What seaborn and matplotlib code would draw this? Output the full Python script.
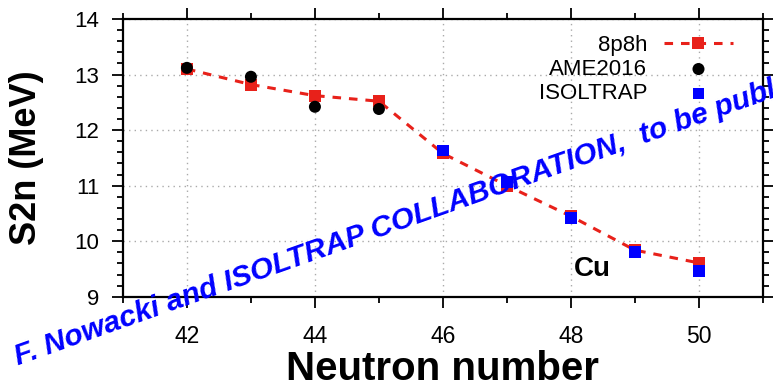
import numpy as np
import pandas as pd
import matplotlib
matplotlib.use("Agg")
import matplotlib.pyplot as plt
from matplotlib.ticker import MultipleLocator
import seaborn as sns

# Two-neutron separation energies for Cu isotopes
n_8p8h = [42, 43, 44, 45, 46, 47, 48, 49, 50]
s2n_8p8h = [13.10, 12.82, 12.62, 12.52, 11.58, 11.00, 10.45, 9.84, 9.61]

n_ame = [42, 43, 44, 45]
s2n_ame = [13.12, 12.96, 12.42, 12.38]

n_isoltrap = [46, 47, 48, 49, 50]
s2n_isoltrap = [11.63, 11.07, 10.42, 9.81, 9.46]

RED = "#e8211a"
BLUE = "#0000ff"

sns.set_style("ticks")
plt.rcParams["font.family"] = ["Liberation Sans", "DejaVu Sans"]
plt.rcParams["text.color"] = "black"
plt.rcParams["axes.labelcolor"] = "black"
plt.rcParams["xtick.color"] = "black"
plt.rcParams["ytick.color"] = "black"
plt.rcParams["axes.edgecolor"] = "black"

df_th = pd.DataFrame({"N": n_8p8h, "S2n": s2n_8p8h})
df_ame = pd.DataFrame({"N": n_ame, "S2n": s2n_ame})
df_iso = pd.DataFrame({"N": n_isoltrap, "S2n": s2n_isoltrap})

fig = plt.figure(figsize=(7.73, 3.87), dpi=100)
ax = fig.add_axes([0.159, 0.233, 0.828, 0.718])

sns.lineplot(data=df_th, x="N", y="S2n", ax=ax, color=RED, lw=2.2,
             linestyle=(0, (2.8, 2.6)), marker="s", markersize=8,
             markeredgewidth=0, label="8p8h", zorder=3)
sns.scatterplot(data=df_ame, x="N", y="S2n", ax=ax, color="black", s=75,
                marker="o", edgecolor="none", label="AME2016", zorder=4)
sns.scatterplot(data=df_iso, x="N", y="S2n", ax=ax, color=BLUE, s=70,
                marker="s", edgecolor="none", label="ISOLTRAP", zorder=5)

ax.set_xlim(41, 51)
ax.set_ylim(9, 14)
ax.xaxis.set_major_locator(MultipleLocator(2))
ax.xaxis.set_minor_locator(MultipleLocator(1))
ax.yaxis.set_major_locator(MultipleLocator(1))
ax.yaxis.set_minor_locator(MultipleLocator(0.2))
ax.tick_params(which="both", direction="out", top=True, right=True,
               width=1.3, labelsize=16)
ax.tick_params(which="major", length=8)
ax.tick_params(which="minor", length=4)
ax.tick_params(axis="x", which="major", pad=12, labelsize=16.5, labeltop=False)
ax.tick_params(axis="y", which="major", pad=9, labelright=False)
for sp in ax.spines.values():
    sp.set_linewidth(1.6)
ax.grid(True, which="major", color="#aaaaaa", linestyle=(0, (1, 3)), lw=1)

ax.set_xlabel("Neutron number", fontsize=29, fontweight="bold", labelpad=2)
ax.set_ylabel("S2n (MeV)", fontsize=26, fontweight="bold", labelpad=22)

ax.text(48.33, 9.5, "Cu", fontsize=20, fontweight="bold", ha="center", va="center")

leg = ax.legend(loc="upper right", bbox_to_anchor=(0.967, 0.976),
                frameon=False, markerfirst=False, fontsize=16,
                handlelength=3.1, labelspacing=0.15, borderaxespad=0,
                handletextpad=0.75)
for t in leg.get_texts():
    t.set_ha("right")

fig.text(0.023, 0.057, "F. Nowacki and ISOLTRAP COLLABORATION,  to be published",
         color=BLUE, fontsize=21.5, fontweight="bold", fontstyle="italic",
         rotation=19.5, rotation_mode="anchor", ha="left", va="baseline", zorder=10)

fig.savefig("out.png", dpi=100)
